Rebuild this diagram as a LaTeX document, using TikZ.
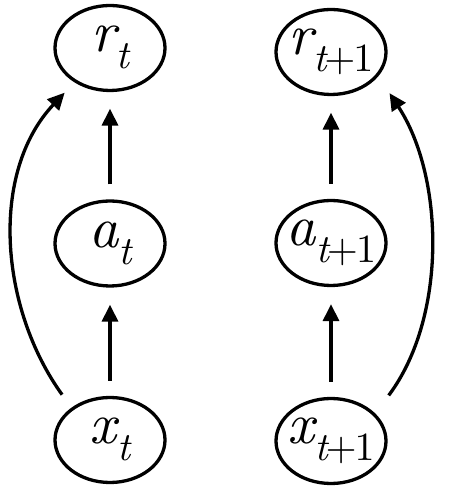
\documentclass[tikz,border=0pt]{standalone}
\usetikzlibrary{arrows.meta,shapes.geometric}
\font\mainit=cmti10 at 58pt
\font\subit=cmti10 at 40pt
\font\subrm=cmr10 at 40pt
\newcommand{\varlbl}[2]{\makebox[60pt][c]{{\mainit #1}\raisebox{-17pt}{\subrm #2}}}
\newcommand{\tpo}{{\subit t}\kern-2pt+\kern-2pt1}
\tikzset{
  var/.style={draw, ellipse, line width=3.3pt, minimum width=110pt, minimum height=85pt, inner sep=0pt},
  arr/.style={line width=3.3pt, -{Triangle[length=17pt,width=16pt]}}
}
\begin{document}
\begin{tikzpicture}[x=1pt,y=1pt]
\useasboundingbox (0,0) rectangle (451,494);
\node[var] (r0) at (110,446) {\varlbl{r}{\subit t}};
\node[var] (r1) at (331,442) {\varlbl{r}{\tpo}};
\node[var] (a0) at (110,250.5) {\varlbl{a}{\subit t}};
\node[var] (a1) at (331,251) {\varlbl{a}{\tpo}};
\node[var] (x0) at (110,54) {\varlbl{x}{\subit t}};
\node[var] (x1) at (331,53) {\varlbl{x}{\tpo}};
\draw[arr, shorten <=15pt, shorten >=16.5pt] (a0) -- (r0);
\draw[arr, shorten <=15pt, shorten >=16.5pt] (a1) -- (r1);
\draw[arr, shorten <=15pt, shorten >=17pt] (x0) -- (a0);
\draw[arr, shorten <=15pt, shorten >=17pt] (x1) -- (a1);
\draw[arr, shorten <=16pt, shorten >=14.2pt] (x0.140.6) .. controls +(-72,100) and +(-85,-90) .. (r0.224.2);
\draw[arr, shorten <=22.5pt, shorten >=20.3pt] (x1.32.4) .. controls +(72,96) and +(66,-101) .. (r1.333.3);
\end{tikzpicture}
\end{document}
